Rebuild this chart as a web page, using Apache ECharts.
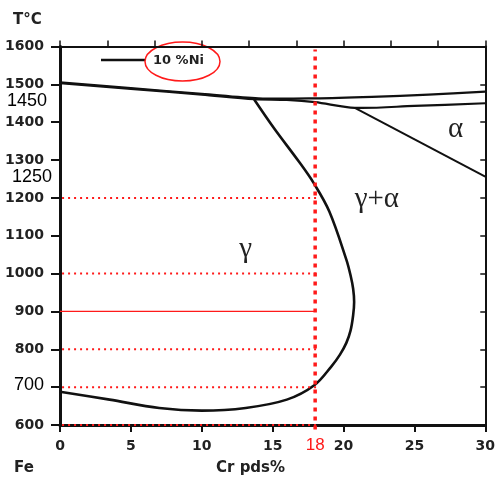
<!DOCTYPE html>
<html><head><meta charset="utf-8">
<script src="https://cdn.jsdelivr.net/npm/echarts/dist/echarts.min.js"></script>
<style>html,body{margin:0;padding:0;background:#fff}#c{width:498px;height:479px}</style>
</head><body><div id="c"></div>
<script>
// ---- data ----
const xTickLabels = ['0','5','10','15','20','25','30'];
const yTickLabels = ['600','700','800','900','1000','1100','1200','1300','1400','1500','1600'];
const hiddenYLabel = '700';

// upper boundary line (10 % Ni)
const upperCr = [0, 5, 10, 14, 18, 22, 26, 30];
const upperT  = [1505, 1490, 1475, 1463, 1463, 1467, 1473, 1481];
// lower boundary line
const lowerCr = [0, 5, 10, 13.7, 16, 18, 20.8, 25, 30];
const lowerT  = [1503, 1488, 1473, 1461, 1459, 1453, 1438, 1443, 1450];
// gamma loop
const loopCr = [13.7, 15.1, 16.85, 17.9, 19.0, 20.2, 20.5, 20.68, 20.75, 20.68, 20.5, 20.2, 19.75, 19.15, 17.94, 16.0, 13.1, 10.0, 7.0, 3.5, 0];
const loopT  = [1460, 1384, 1296, 1239, 1164, 1037, 995, 960, 925, 890, 850, 817, 786, 755, 705, 667, 645, 638, 645, 667, 688];
// alpha boundary
const alphaCr = [20.8, 30];
const alphaT  = [1438, 1256];

// red guide lines
const markCr = 18;
const dottedLevels = [1200, 1000, 800, 700, 600];
const solidLevel = 900;
const guideStartCr = -0.7;

// annotations
const noteTemps = [1450, 1250, 700];
const regionLabels = [
  {text: 'γ',   cr: 13.1, t: 1058},
  {text: 'γ+α', cr: 22.35, t: 1192},
  {text: 'α',   cr: 27.9, t: 1377}
];
const legendText = '10 %Ni';

// ---- chart ----
const zip = (a, b) => a.map((v, i) => [v, b[i]]);
const chart = echarts.init(document.getElementById('c'));
const black = '#111';
const red = '#ff1a1a';
const boldFont = 'DejaVu Sans';

const series = [];
// smooth curve through the read points (unconstrained spline), drawn via the axes' coordinates
function curve(data, w, smooth) {
  series.push({type: 'custom', coordinateSystem: 'cartesian2d', clip: false, z: 3, silent: true,
    data: [data[0]],
    renderItem: (params, api) => ({
      type: 'polyline',
      shape: {points: data.map(p => api.coord(p)), smooth: smooth, smoothConstraint: false},
      style: {stroke: black, lineWidth: w, fill: null, lineJoin: 'round'}
    })});
}
curve(zip(upperCr, upperT), 2.2, 0.3);
curve(zip(lowerCr, lowerT), 2.2, 0.3);
curve(zip(loopCr, loopT), 2.6, 0.35);
curve(zip(alphaCr, alphaT), 2, 0);

dottedLevels.forEach(lv => {
  series.push({type: 'line', data: [[guideStartCr, lv], [markCr + 0.1, lv]], symbol: 'none', clip: false, z: 4,
    lineStyle: {color: red, width: 2, type: [2, 4]}});
});
series.push({type: 'line', data: [[0, solidLevel], [markCr, solidLevel]], symbol: 'none', clip: false, z: 4,
  lineStyle: {color: red, width: 1.3}});
series.push({type: 'line', data: [[markCr, 588], [markCr, 1592]], symbol: 'none', clip: false, z: 5,
  lineStyle: {color: red, width: 3.5, type: [4, 5]}});

const yMin = +yTickLabels[0], yMax = +yTickLabels[yTickLabels.length - 1];
const yStep = +yTickLabels[1] - +yTickLabels[0];
const xMin = +xTickLabels[0], xMax = +xTickLabels[xTickLabels.length - 1];
const xStep = +xTickLabels[1] - +xTickLabels[0];

const option = {
  animation: false,
  grid: {left: 60, right: 10, top: 46.5, bottom: 54, containLabel: false},
  xAxis: [
    {type: 'value', min: xMin, max: xMax, interval: xStep, position: 'bottom',
     axisLine: {lineStyle: {color: black, width: 3}},
     axisTick: {length: 7, lineStyle: {color: black, width: 2}},
     splitLine: {show: false},
     axisLabel: {margin: 14, color: '#222', fontFamily: boldFont, fontWeight: 'bold', fontSize: 14}},
    {type: 'value', min: xMin, max: xMax, interval: xMax / 9, position: 'top',
     axisLine: {onZero: false, lineStyle: {color: black, width: 2}},
     axisTick: {length: 6, lineStyle: {color: black, width: 1.5}},
     splitLine: {show: false}, axisLabel: {show: false}}
  ],
  yAxis: [
    {type: 'value', min: yMin, max: yMax, interval: yStep, position: 'left',
     axisLine: {show: true, lineStyle: {color: black, width: 3}},
     axisTick: {show: true, length: 9, lineStyle: {color: black, width: 2}},
     splitLine: {show: false},
     axisLabel: {margin: 16, color: '#222', fontFamily: boldFont, fontWeight: 'bold', fontSize: 14,
       formatter: v => (String(v) === hiddenYLabel ? '' : String(v))}},
    {type: 'value', min: yMin, max: yMax, interval: yStep, position: 'right',
     axisLine: {show: true, onZero: false, lineStyle: {color: black, width: 2}},
     axisTick: {show: true, inside: true, length: 5, lineStyle: {color: black, width: 1.5}},
     splitLine: {show: false}, axisLabel: {show: false}}
  ],
  series
};
chart.setOption(option);

const px = (cr, t) => chart.convertToPixel({xAxisIndex: 0, yAxisIndex: 0}, [cr, t]);
const g = [];
// axis titles
g.push({type: 'text', left: 13, top: 13, style: {text: 'T°C', font: 'bold 15px "DejaVu Sans"', fill: '#222'}});
g.push({type: 'text', left: 14, top: 461, style: {text: 'Fe', font: 'bold 15px "DejaVu Sans"', fill: '#222'}});
g.push({type: 'text', left: 216, top: 461, style: {text: 'Cr pds%', font: 'bold 15px "DejaVu Sans"', fill: '#222'}});
// 18 label
const p18 = px(markCr, yMin);
g.push({type: 'text', x: p18[0], y: p18[1] + 20, style: {text: String(markCr), font: '17px "Liberation Sans"', fill: red, align: 'center', verticalAlign: 'middle'}});
// temperature notes
const noteLeft = [7, 12, 14];
noteTemps.forEach((t, i) => {
  const p = px(0, t);
  g.push({type: 'text', x: noteLeft[i], y: p[1] - 2, style: {text: String(t), font: '18px "Liberation Sans"', fill: '#000', verticalAlign: 'middle'}});
});
// region labels
regionLabels.forEach(r => {
  const p = px(r.cr, r.t);
  g.push({type: 'text', x: p[0], y: p[1] - 2, style: {text: r.text, font: '29px "Liberation Serif"', fill: '#222', align: 'center', verticalAlign: 'middle'}});
});
// legend
g.push({type: 'line', shape: {x1: 101, y1: 60, x2: 145, y2: 60}, style: {stroke: black, lineWidth: 2.5}});
g.push({type: 'text', x: 153, y: 61, style: {text: legendText, font: 'bold 13px "DejaVu Sans"', fill: '#222', verticalAlign: 'middle'}});
g.push({type: 'ellipse', shape: {cx: 182.5, cy: 61.5, rx: 37.5, ry: 19.5}, style: {stroke: red, fill: 'none', lineWidth: 1.5}});
chart.setOption({graphic: g});
</script>
</body></html>
